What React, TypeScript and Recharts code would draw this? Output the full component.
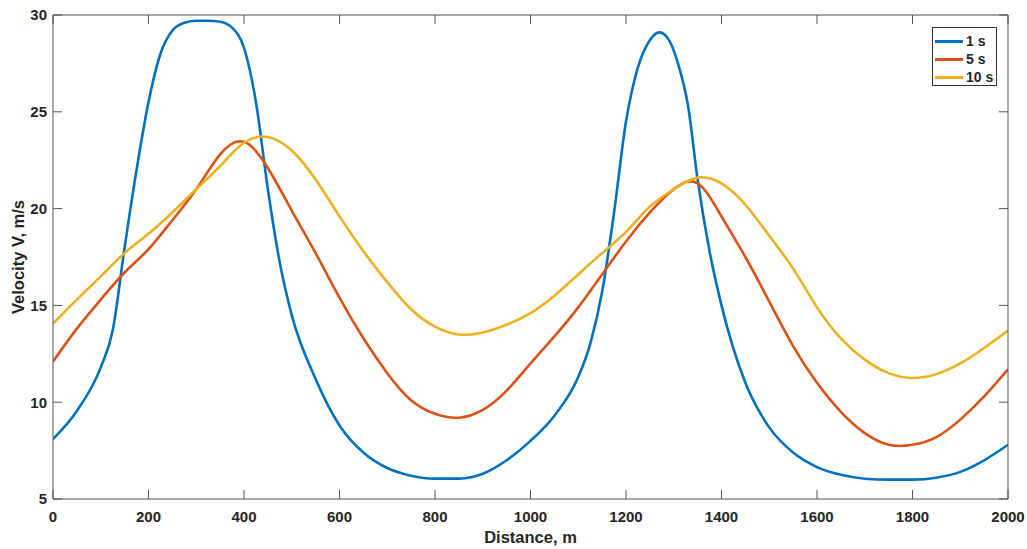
import { LineChart, Line, XAxis, YAxis, Label, ReferenceLine } from "recharts";

const distance = [
  0, 50, 100, 150, 200, 250, 300, 350, 400, 450, 500, 550, 600, 650, 700, 750, 800, 850, 900, 950, 1000,
  1050, 1100, 1150, 1200, 1250, 1300, 1350, 1400, 1450, 1500, 1550, 1600, 1650, 1700, 1750, 1800, 1850,
  1900, 1950, 2000
];
const v5s = [
  12.1, 13.8, 15.3, 16.7, 17.9, 19.4, 21.0, 22.8, 23.45, 22.1, 19.9, 17.7, 15.4, 13.3, 11.5, 10.1, 9.4,
  9.2, 9.6, 10.6, 12.0, 13.4, 14.9, 16.6, 18.3, 19.8, 21.0, 21.3, 19.6, 17.5, 15.2, 12.9, 11.0, 9.5, 8.4,
  7.8, 7.8, 8.2, 9.1, 10.3, 11.7
];
const v10s = [
  14.06, 15.3, 16.5, 17.7, 18.7, 19.8, 21.0, 22.2, 23.4, 23.7, 23.0, 21.5, 19.6, 17.8, 16.2, 14.8, 13.9,
  13.5, 13.6, 14.0, 14.6, 15.5, 16.6, 17.7, 18.8, 20.1, 21.0, 21.6, 21.3, 20.2, 18.6, 16.9, 14.9, 13.3,
  12.2, 11.5, 11.25, 11.45, 12.0, 12.8, 13.7
];

// 1 s curve is steep, so it gets a denser distance list
const distance1s = [
  0, 50, 100, 125, 150, 175, 200, 225, 250, 275, 300, 325, 350, 375, 400, 425, 450, 475, 500, 550, 600,
  650, 700, 750, 800, 850, 900, 950, 1000, 1050, 1100, 1125, 1150, 1175, 1200, 1225, 1250, 1270, 1290,
  1310, 1330, 1350, 1375, 1400, 1450, 1500, 1550, 1600, 1650, 1700, 1750, 1800, 1850, 1900, 1950, 2000
];
const v1s = [
  8.1, 9.55, 11.8, 13.7, 18.0, 22.0, 25.5, 28.0, 29.2, 29.6, 29.7, 29.7, 29.65, 29.35, 28.3, 25.5, 21.0,
  17.2, 14.5, 11.2, 8.8, 7.4, 6.6, 6.2, 6.05, 6.05, 6.3, 7.0, 8.0, 9.3, 11.3, 13.0, 15.7, 19.8, 24.5,
  27.3, 28.7, 29.1, 28.7, 27.4, 25.3, 21.5, 17.8, 15.0, 11.0, 8.7, 7.4, 6.65, 6.25, 6.05, 6.0, 6.0, 6.1,
  6.4, 7.0, 7.8
];

const xTicks = [0, 200, 400, 600, 800, 1000, 1200, 1400, 1600, 1800, 2000];
const yTicks = [5, 10, 15, 20, 25, 30];
const xMin = 0;
const xMax = 2000;
const yMin = 5;
const yMax = 30;

const series = [
  { name: "1 s", color: "#0072BD" },
  { name: "5 s", color: "#D95319" },
  { name: "10 s", color: "#EDB120" }
];

const data1s = distance1s.map((d, i) => ({ d, v: v1s[i] }));
const data5s = distance.map((d, i) => ({ d, v: v5s[i] }));
const data10s = distance.map((d, i) => ({ d, v: v10s[i] }));

// inward tick length, in data units (~9px)
const xTickLen = 19;
const yTickLen = 0.47;

const axisColor = "#555";
const font = "'Liberation Sans', Arial, sans-serif";
const tickStyle = { fontSize: 15, fontWeight: 700, fill: "#262626", fontFamily: font };
const noLabel = () => <g />;

export default function App() {
  return (
    <div style={{ position: "absolute", left: 0, top: 0, width: 1027, height: 549, background: "#fff" }}>
      <LineChart width={1027} height={549} margin={{ top: 15, right: 19, bottom: 20, left: 13 }}>
        <XAxis
          dataKey="d"
          type="number"
          domain={[xMin, xMax]}
          ticks={xTicks}
          height={30}
          stroke={axisColor}
          tickLine={false}
          tickMargin={6}
          tick={tickStyle}
          allowDataOverflow
        >
          <Label
            value="Distance, m"
            position="insideBottom"
            offset={-14}
            style={{ fontSize: 16.5, fontWeight: 700, fill: "#262626", fontFamily: font }}
          />
        </XAxis>
        <XAxis
          xAxisId="top"
          orientation="top"
          mirror
          dataKey="d"
          type="number"
          domain={[xMin, xMax]}
          ticks={xTicks}
          height={1}
          stroke={axisColor}
          tickLine={false}
          tick={noLabel}
        />
        <YAxis
          type="number"
          domain={[yMin, yMax]}
          ticks={yTicks}
          width={40}
          stroke={axisColor}
          tickLine={false}
          tickMargin={0}
          tick={tickStyle}
          allowDataOverflow
        >
          <Label
            value="Velocity V, m/s"
            angle={-90}
            position="insideLeft"
            offset={5}
            style={{ fontSize: 16.5, fontWeight: 700, fill: "#262626", fontFamily: font, textAnchor: "middle" }}
          />
        </YAxis>
        <YAxis
          yAxisId="right"
          orientation="right"
          mirror
          type="number"
          domain={[yMin, yMax]}
          ticks={yTicks}
          width={1}
          stroke={axisColor}
          tickLine={false}
          tick={noLabel}
        />
        {xTicks.map((t) => (
          <ReferenceLine key={"xb" + t} segment={[{ x: t, y: yMin }, { x: t, y: yMin + yTickLen }]} stroke={axisColor} ifOverflow="visible" />
        ))}
        {xTicks.map((t) => (
          <ReferenceLine key={"xt" + t} segment={[{ x: t, y: yMax }, { x: t, y: yMax - yTickLen }]} stroke={axisColor} ifOverflow="visible" />
        ))}
        {yTicks.map((t) => (
          <ReferenceLine key={"yl" + t} segment={[{ x: xMin, y: t }, { x: xMin + xTickLen, y: t }]} stroke={axisColor} ifOverflow="visible" />
        ))}
        {yTicks.map((t) => (
          <ReferenceLine key={"yr" + t} segment={[{ x: xMax, y: t }, { x: xMax - xTickLen, y: t }]} stroke={axisColor} ifOverflow="visible" />
        ))}
        <Line data={data1s} dataKey="v" name="1 s" type="monotone" stroke={series[0].color} strokeWidth={2.6} dot={false} isAnimationActive={false} />
        <Line data={data5s} dataKey="v" name="5 s" type="natural" stroke={series[1].color} strokeWidth={2.6} dot={false} isAnimationActive={false} />
        <Line data={data10s} dataKey="v" name="10 s" type="natural" stroke={series[2].color} strokeWidth={2.6} dot={false} isAnimationActive={false} />
      </LineChart>
      <div
        style={{
          position: "absolute",
          left: 932,
          top: 27,
          width: 63,
          height: 57,
          border: "1px solid #333",
          background: "#fff",
          fontFamily: font
        }}
      >
        {series.map((s, i) => (
          <div key={s.name} style={{ position: "absolute", left: 2, top: 4 + i * 18, height: 18, display: "flex", alignItems: "center" }}>
            <div style={{ width: 28, height: 3, background: s.color }} />
            <span style={{ marginLeft: 3, fontSize: 14, fontWeight: 700, color: "#262626" }}>{s.name}</span>
          </div>
        ))}
      </div>
    </div>
  );
}
